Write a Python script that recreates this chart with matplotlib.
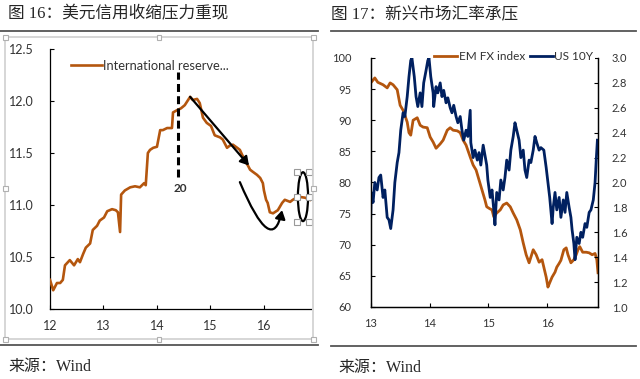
import matplotlib
matplotlib.use("Agg")
import matplotlib.pyplot as plt
from matplotlib.lines import Line2D
from matplotlib.patches import Rectangle, Ellipse, FancyArrowPatch
from matplotlib.path import Path

# ---------------- data ----------------
# Figure 16: international reserves (left panel)
res_year = [12.00, 12.06, 12.13, 12.19, 12.24, 12.28, 12.37, 12.45, 12.52, 12.56,
            12.62, 12.67, 12.75, 12.80, 12.88, 12.93, 13.01, 13.07, 13.16, 13.23,
            13.27, 13.31, 13.33, 13.40, 13.50, 13.59, 13.68, 13.76, 13.79, 13.83,
            13.87, 13.93, 14.00, 14.06, 14.11, 14.19, 14.28, 14.30, 14.37, 14.45,
            14.52, 14.62, 14.67, 14.75, 14.80, 14.86, 14.93, 15.01, 15.08, 15.18,
            15.23, 15.31, 15.36, 15.42, 15.50, 15.55, 15.64, 15.70, 15.74, 15.79,
            15.87, 15.93, 15.98, 16.00, 16.04, 16.07, 16.11, 16.17, 16.26, 16.34,
            16.39, 16.49, 16.54, 16.64, 16.77, 16.86]
res_val = [10.28, 10.18, 10.25, 10.25, 10.28, 10.42, 10.47, 10.42, 10.48, 10.45,
           10.53, 10.59, 10.63, 10.76, 10.80, 10.85, 10.88, 10.94, 10.96, 10.95,
           10.93, 10.74, 11.10, 11.14, 11.17, 11.18, 11.17, 11.21, 11.19, 11.50,
           11.53, 11.55, 11.56, 11.72, 11.72, 11.74, 11.74, 11.89, 11.91, 11.93,
           11.96, 12.04, 12.01, 12.02, 11.98, 11.84, 11.79, 11.76, 11.67, 11.65,
           11.63, 11.55, 11.57, 11.58, 11.55, 11.53, 11.43, 11.38, 11.34, 11.32,
           11.29, 11.26, 11.21, 11.14, 11.05, 11.02, 10.93, 10.92, 10.95, 11.02,
           11.05, 11.03, 11.05, 11.08, 11.07, 11.05]
left_xticks = [12, 13, 14, 15, 16]
left_yticks = [10.0, 10.5, 11.0, 11.5, 12.0, 12.5]

# Figure 17: EM FX index (left axis) and US 10Y (right axis)
em_year = [13.00, 13.07, 13.12, 13.21, 13.28, 13.33, 13.38, 13.45, 13.50, 13.55,
           13.58, 13.62, 13.65, 13.68, 13.72, 13.79, 13.84, 13.89, 13.96, 14.01,
           14.06, 14.11, 14.18, 14.23, 14.30, 14.35, 14.40, 14.47, 14.52, 14.57,
           14.62, 14.69, 14.74, 14.79, 14.84, 14.89, 14.94, 14.97, 15.02, 15.06,
           15.09, 15.14, 15.20, 15.25, 15.31, 15.37, 15.42, 15.48, 15.54, 15.59,
           15.64, 15.69, 15.72, 15.76, 15.81, 15.86, 15.91, 15.94, 15.98, 16.01,
           16.04, 16.08, 16.13, 16.16, 16.20, 16.23, 16.28, 16.32, 16.35, 16.40,
           16.45, 16.49, 16.52, 16.55, 16.60, 16.66, 16.71, 16.76, 16.81, 16.84,
           16.86]
em_val = [96.0, 96.8, 96.1, 95.7, 95.2, 96.0, 95.7, 94.9, 92.4, 91.6,
          90.8, 89.7, 88.0, 87.6, 90.0, 90.4, 89.2, 88.9, 88.8, 87.3,
          86.5, 85.5, 86.2, 86.8, 88.4, 88.8, 88.4, 88.3, 88.0, 86.8,
          86.0, 84.1, 82.8, 82.0, 80.4, 78.8, 77.2, 76.1, 75.8, 75.6,
          74.5, 75.1, 75.6, 76.4, 76.7, 76.1, 75.1, 74.0, 72.4, 70.3,
          68.4, 67.1, 68.0, 69.2, 68.4, 67.2, 67.6, 66.4, 64.8, 63.2,
          63.9, 64.8, 65.6, 66.4, 67.0, 67.5, 69.2, 69.5, 68.4, 67.1,
          67.6, 68.4, 69.2, 69.7, 68.8, 68.8, 68.7, 68.4, 68.6, 67.6,
          65.5]
us_year = [13.00, 13.01, 13.04, 13.07, 13.11, 13.14, 13.17, 13.21, 13.24, 13.28,
           13.31, 13.34, 13.38, 13.41, 13.45, 13.48, 13.51, 13.55, 13.58, 13.62,
           13.65, 13.68, 13.70, 13.74, 13.77, 13.80, 13.84, 13.87, 13.90, 13.94,
           13.97, 13.99, 14.02, 14.06, 14.07, 14.11, 14.14, 14.18, 14.21, 14.24,
           14.28, 14.31, 14.35, 14.38, 14.41, 14.45, 14.48, 14.52, 14.55, 14.58,
           14.62, 14.65, 14.69, 14.70, 14.74, 14.77, 14.81, 14.84, 14.87, 14.91,
           14.94, 14.97, 14.99, 15.03, 15.06, 15.09, 15.11, 15.14, 15.18, 15.21,
           15.25, 15.28, 15.31, 15.35, 15.38, 15.42, 15.45, 15.48, 15.52, 15.55,
           15.59, 15.62, 15.65, 15.69, 15.72, 15.76, 15.79, 15.82, 15.86, 15.89,
           15.94, 15.98, 16.01, 16.04, 16.08, 16.10, 16.13, 16.16, 16.20, 16.23,
           16.27, 16.30, 16.33, 16.37, 16.40, 16.42, 16.45, 16.47, 16.50, 16.54,
           16.57, 16.60, 16.64, 16.67, 16.71, 16.74, 16.78, 16.81, 16.83, 16.85]
us_val = [1.72, 1.92, 1.84, 2.00, 1.94, 2.04, 2.06, 1.88, 1.94, 1.72,
          1.70, 1.63, 1.78, 2.00, 2.16, 2.24, 2.42, 2.56, 2.53, 2.69,
          2.85, 2.98, 3.00, 2.85, 2.69, 2.61, 2.72, 2.61, 2.80, 2.90,
          2.98, 3.00, 2.85, 2.72, 2.61, 2.77, 2.72, 2.80, 2.69, 2.74,
          2.64, 2.68, 2.60, 2.56, 2.62, 2.53, 2.48, 2.53, 2.42, 2.34,
          2.42, 2.37, 2.58, 2.32, 2.20, 2.26, 2.18, 2.24, 2.14, 2.30,
          2.22, 2.14, 2.02, 1.88, 1.94, 1.78, 1.66, 1.92, 1.86, 2.02,
          1.94, 2.04, 2.18, 2.10, 2.26, 2.37, 2.48, 2.42, 2.34, 2.20,
          2.26, 2.10, 2.04, 2.18, 2.16, 2.26, 2.37, 2.32, 2.26, 2.28,
          2.26, 2.12, 2.00, 1.88, 1.67, 1.80, 1.92, 1.78, 1.88, 1.72,
          1.86, 1.76, 1.92, 1.80, 1.72, 1.62, 1.51, 1.38, 1.56, 1.51,
          1.60, 1.56, 1.67, 1.64, 1.76, 1.78, 1.86, 2.00, 2.18, 2.34]
right_xticks = [13, 14, 15, 16]
em_yticks = [60, 65, 70, 75, 80, 85, 90, 95, 100]
us_yticks = [1.0, 1.2, 1.4, 1.6, 1.8, 2.0, 2.2, 2.4, 2.6, 2.8, 3.0]

title_left = "图 16：美元信用收缩压力重现"
title_right = "图 17：新兴市场汇率承压"
source_text = "来源：Wind"
legend_left = "International reserve..."
legend_em = "EM FX index"
legend_us = "US 10Y"

ORANGE = "#B4560E"
NAVY = "#002060"
SERIF_CJK = ["Liberation Serif", "Noto Sans CJK SC", "DejaVu Sans"]
TICKFONT = "Lato"

W, H = 640, 379
fig = plt.figure(figsize=(6.4, 3.79), dpi=100)

def fx(px):
    return px / W

def fy(py):
    return 1 - py / H

# ---------------- headers / footers ----------------
fig.text(fx(8), fy(14), title_left, family=SERIF_CJK, fontsize=12, va="center", ha="left", color="#262626")
fig.text(fx(331), fy(14), title_right, family=SERIF_CJK, fontsize=12, va="center", ha="left", color="#262626")
fig.add_artist(Line2D([fx(0), fx(318)], [fy(31), fy(31)], color="#555555", lw=1.3))
fig.add_artist(Line2D([fx(331), fx(636)], [fy(31), fy(31)], color="#555555", lw=1.3))
fig.add_artist(Line2D([fx(0), fx(318)], [fy(345), fy(345)], color="#555555", lw=1.3))
fig.add_artist(Line2D([fx(331), fx(636)], [fy(346), fy(346)], color="#555555", lw=1.3))
fig.text(fx(8), fy(367), source_text, family=SERIF_CJK, fontsize=11.5, va="center", ha="left", color="#262626")
fig.text(fx(338), fy(368), source_text, family=SERIF_CJK, fontsize=11.5, va="center", ha="left", color="#262626")

# gray selection frame of the left chart
fig.add_artist(Rectangle((fx(5), fy(339)), fx(313) - fx(5), fy(37) - fy(339),
                         transform=fig.transFigure, fill=False, ec="#cfcfcf", lw=1.2))
for hx, hy in [(5, 37), (159, 37), (313, 37), (5, 188), (313, 188), (5, 339), (159, 339), (313, 339)]:
    fig.add_artist(Rectangle((fx(hx - 2.5), fy(hy + 2.5)), 5 / W, 5 / H, transform=fig.transFigure,
                             fc="white", ec="#b0b0b0", lw=0.8, zorder=5))

# ---------------- left chart ----------------
ax = fig.add_axes([fx(50), fy(309), fx(311) - fx(50), fy(49) - fy(309)])
ax.plot(res_year, res_val, color=ORANGE, lw=1.9, label=legend_left, zorder=3)
ax.set_xlim(12, 16.88)
ax.set_ylim(10.0, 12.5)
ax.set_xticks(left_xticks)
ax.set_xticklabels([str(t) for t in left_xticks])
ax.set_yticks(left_yticks)
ax.set_yticklabels([f"{t:.1f}" for t in left_yticks])
for s in ["top", "right"]:
    ax.spines[s].set_visible(False)
for s in ["left", "bottom"]:
    ax.spines[s].set_color("black")
    ax.spines[s].set_linewidth(0.9)
ax.tick_params(axis="both", direction="in", length=3, width=0.8, colors="black", labelcolor="#333333")
ax.tick_params(axis="x", pad=8, labelsize=9)
ax.tick_params(axis="y", pad=12, labelsize=9)
for lab in ax.get_xticklabels() + ax.get_yticklabels():
    lab.set_family(TICKFONT)
ax.legend(loc="center left", bbox_to_anchor=(0.06, 0.935), frameon=False, handlelength=2.4,
          handletextpad=0.1, borderaxespad=0, prop={"family": TICKFONT, "size": 9.3},
          labelcolor="#333333")

# annotations
ax.plot([14.39, 14.39], [11.27, 12.28], color="black", lw=2.2, ls=(0, (2.6, 1.4)), zorder=4)
ax.text(14.43, 11.16, "20", fontsize=8.5, fontweight="bold", color="#333333", ha="center", va="center",
        family=TICKFONT)
ax.add_patch(FancyArrowPatch((14.62, 12.04), (15.72, 11.38), arrowstyle="-|>,head_length=5,head_width=3",
                             color="black", lw=1.6, zorder=5, shrinkA=0, shrinkB=0))
curve = Path([(15.55, 11.22), (16.15, 10.49), (16.34, 10.95)], [Path.MOVETO, Path.CURVE3, Path.CURVE3])
ax.add_patch(FancyArrowPatch(path=curve, arrowstyle="-|>,head_length=5,head_width=3",
                             color="black", lw=1.6, zorder=5, shrinkA=0, shrinkB=0))
ax.add_patch(Ellipse((16.73, 11.08), 0.19, 0.47, fill=False, ec="black", lw=1.6, zorder=5))
for hx, hy in [(16.62, 11.32), (16.84, 11.32), (16.62, 11.08), (16.84, 11.08), (16.62, 10.84), (16.84, 10.84)]:
    ax.plot([hx], [hy], marker="s", ms=4.5, mfc="white", mec="#999999", mew=0.8, zorder=6, clip_on=False)

# ---------------- right chart ----------------
bx = fig.add_axes([fx(370.7), fy(307), fx(598) - fx(370.7), fy(58) - fy(307)])
bx2 = bx.twinx()
l1, = bx.plot(em_year, em_val, color=ORANGE, lw=2.0, label=legend_em)
l2, = bx2.plot(us_year, us_val, color=NAVY, lw=2.0, label=legend_us)
bx.set_xlim(13, 16.86)
bx.set_ylim(60, 100)
bx2.set_ylim(1.0, 3.0)
bx.set_xticks(right_xticks)
bx.set_xticklabels([str(t) for t in right_xticks])
bx.set_yticks(em_yticks)
bx.set_yticklabels([str(t) for t in em_yticks])
bx2.set_yticks(us_yticks)
bx2.set_yticklabels([f"{t:.1f}" for t in us_yticks])
for a in (bx, bx2):
    a.spines["top"].set_visible(False)
    for s in ["left", "right", "bottom"]:
        a.spines[s].set_color("black")
        a.spines[s].set_linewidth(0.9)
bx.tick_params(axis="both", direction="in", length=3, width=0.8, colors="black", labelcolor="#333333",
               labelsize=8)
bx.tick_params(axis="x", pad=8)
bx.tick_params(axis="y", pad=14)
bx2.tick_params(axis="y", direction="in", length=3, width=0.8, colors="black", labelcolor="#333333",
                labelsize=8, pad=10)
for lab in bx.get_xticklabels() + bx.get_yticklabels() + bx2.get_yticklabels():
    lab.set_family(TICKFONT)
leg = bx2.legend([l1, l2], [legend_em, legend_us], loc="center right", bbox_to_anchor=(0.985, 1.005),
                 ncol=2, frameon=True, facecolor="white", edgecolor="none", framealpha=1,
                 handlelength=2.0, handletextpad=0.1, columnspacing=0.4, borderpad=0.1,
                 borderaxespad=0, prop={"family": TICKFONT, "size": 8.5}, labelcolor="#333333")

fig.savefig("out.png", dpi=100)
